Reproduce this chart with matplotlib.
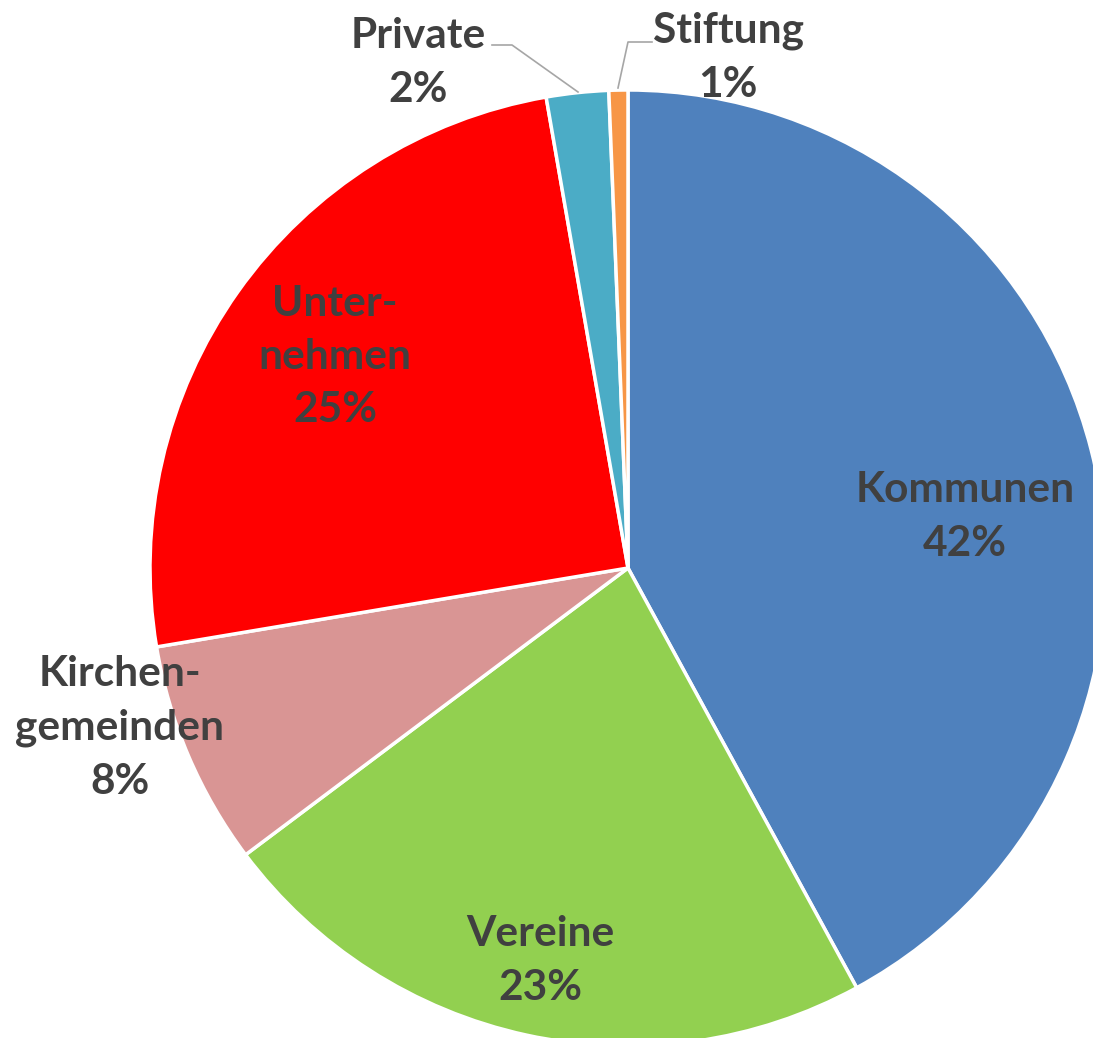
import numpy as np
import matplotlib.pyplot as plt

# Daten
labels = ['Kommunen', 'Vereine', 'Kirchen-\ngemeinden', 'Unter-\nnehmen', 'Private', 'Stiftung']
values = [42.06, 22.7, 7.6, 24.9, 2.1, 0.64]
pct_text = ['42%', '23%', '8%', '25%', '2%', '1%']
colors = ['#4F81BD', '#92D050', '#D99594', '#FF0000', '#4BACC6', '#F79646']

# Layout (Pixel im Bild)
W, H = 1093, 1038
cx, cy, R = 628, 568, 478
label_px = [(965, 517), (540, 961), (120, 728), (335, 357), (418, 63), (728, 58)]

def to_data(px, py):
    return (px - cx) / R, (cy - py) / R

fig = plt.figure(figsize=(W / 100, H / 100), dpi=100)
ax = fig.add_axes([0, 0, 1, 1])

wedges, _ = ax.pie(values, colors=colors, startangle=90, counterclock=False,
                   radius=1.0, center=(0, 0), frame=True,
                   wedgeprops=dict(edgecolor='white', linewidth=2.5))
ax.set_xlim(-cx / R, (W - cx) / R)
ax.set_ylim(-(H - cy) / R, cy / R)
ax.set_aspect('auto')
ax.axis('off')

for lab, pct, (px, py) in zip(labels, pct_text, label_px):
    x, y = to_data(px, py)
    ax.text(x, y, lab + '\n' + pct, ha='center', va='center', fontsize=30.5,
            fontweight='bold', family='Lato', color='#404040', linespacing=1.5)

# Führungslinien für kleine Segmente
lc = '#A6A6A6'
p = [to_data(492, 45), to_data(512, 45), to_data(578, 92)]
ax.plot([q[0] for q in p], [q[1] for q in p], color=lc, lw=1.2)
s = [to_data(652, 42), to_data(628, 42), to_data(618, 88)]
ax.plot([q[0] for q in s], [q[1] for q in s], color=lc, lw=1.2)

fig.savefig('out.png', dpi=100, facecolor='white')
